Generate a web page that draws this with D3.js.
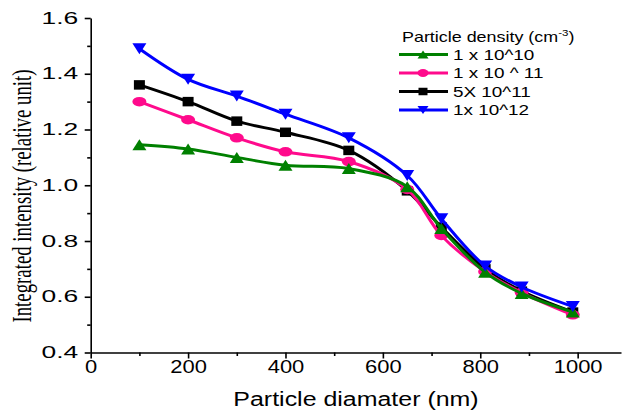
<!DOCTYPE html>
<html>
<head>
<meta charset="UTF-8">
<title>Integrated intensity vs particle diameter</title>
<script src="https://cdn.jsdelivr.net/npm/d3@7/dist/d3.min.js"></script>
<style>
body { margin: 0; background: #fff; }
svg text { fill: #000; }
</style>
</head>
<body>
<svg id="chart" width="622" height="412"></svg>
<script>
// values
var diameters = [100, 200, 300, 400, 530, 650, 720, 810, 885, 990];
var dens1e10 = [1.145, 1.13, 1.10, 1.072, 1.06, 0.995, 0.845, 0.688, 0.612, 0.545];
var dens1e11 = [1.30, 1.235, 1.17, 1.12, 1.085, 0.985, 0.82, 0.69, 0.615, 0.535];
var dens5e11 = [1.36, 1.30, 1.23, 1.19, 1.125, 0.98, 0.85, 0.70, 0.62, 0.545];
var dens1e12 = [1.49, 1.38, 1.32, 1.255, 1.17, 1.035, 0.88, 0.71, 0.635, 0.565];
var seriesNames = ["1 x 10^10", "1 x 10 ^ 11", "5X 10^11", "1x 10^12"];
var xTicks = [0, 200, 400, 600, 800, 1000];
var yTicks = [0.4, 0.6, 0.8, 1.0, 1.2, 1.4, 1.6];

var series = [
  {name: seriesNames[0], values: dens1e10, color: "#008000", marker: "up"},
  {name: seriesNames[1], values: dens1e11, color: "#ff0a8c", marker: "circle"},
  {name: seriesNames[2], values: dens5e11, color: "#000000", marker: "square"},
  {name: seriesNames[3], values: dens1e12, color: "#0000ff", marker: "down"}
];

var SANS = "Arial, 'Liberation Sans', sans-serif";
var SERIF = "'Times New Roman', 'Liberation Serif', serif";
// the original picture is stretched sideways, so text is too
var SX = 1.28;

var svg = d3.select("#chart");
var x = d3.scaleLinear().domain([0, 1089]).range([90.7, 621]);
var y = d3.scaleLinear().domain([0.4, 1.6]).range([352.5, 18]);

// axes
var xAxis = svg.append("g").attr("transform", "translate(0," + y(0.4) + ")")
  .call(d3.axisBottom(x).tickValues(xTicks).tickFormat(d3.format("d")).tickSize(6).tickSizeOuter(0).tickPadding(2));
var xMinor = svg.append("g").attr("transform", "translate(0," + y(0.4) + ")")
  .call(d3.axisBottom(x).tickValues([100, 300, 500, 700, 900]).tickFormat("").tickSize(3.5).tickSizeOuter(0));
xMinor.select(".domain").remove();
xAxis.selectAll("text").attr("font-size", 18).attr("transform", "scale(1.22,1)");

var yAxis = svg.append("g").attr("transform", "translate(" + x(0) + ",0)")
  .call(d3.axisLeft(y).tickValues(yTicks).tickFormat(d3.format(".1f")).tickSize(6).tickSizeOuter(0).tickPadding(6));
var yMinor = svg.append("g").attr("transform", "translate(" + x(0) + ",0)")
  .call(d3.axisLeft(y).tickValues([0.5, 0.7, 0.9, 1.1, 1.3, 1.5]).tickFormat("").tickSize(3.5).tickSizeOuter(0));
yMinor.select(".domain").remove();
yAxis.selectAll("text").attr("font-size", 16).attr("transform", "scale(1.65,1)")
  .attr("x", -12.5 / 1.65);

svg.selectAll(".domain, .tick line").attr("stroke", "#000").attr("stroke-width", 1.6);
svg.selectAll(".tick text").style("font-family", SANS);

// axis titles
svg.append("text")
  .attr("transform", "translate(356,406) scale(" + SX + ",1)")
  .attr("text-anchor", "middle")
  .style("font-family", SANS)
  .attr("font-size", 19.5)
  .text("Particle diamater (nm)");

svg.append("text")
  .attr("transform", "translate(31,196) scale(1.5,1) rotate(-90)")
  .attr("text-anchor", "middle")
  .style("font-family", SERIF)
  .attr("font-size", 18.8)
  .text("Integrated intensity (relative unit)");

// markers
function markerPath(type, w, h) {
  var hw = w / 2, hh = h / 2;
  if (type === "up") return "M0," + (-hh) + "L" + hw + "," + hh + "L" + (-hw) + "," + hh + "Z";
  if (type === "down") return "M0," + hh + "L" + hw + "," + (-hh) + "L" + (-hw) + "," + (-hh) + "Z";
  if (type === "square") return "M" + (-hw) + "," + (-hh) + "h" + w + "v" + h + "h" + (-w) + "Z";
  return "M" + (-hw) + ",0A" + hw + "," + hh + " 0 1,0 " + hw + ",0A" + hw + "," + hh + " 0 1,0 " + (-hw) + ",0Z";
}

var line = d3.line()
  .x(function(d, i) { return x(diameters[i]); })
  .y(function(d) { return y(d); })
  .curve(d3.curveCatmullRom.alpha(0.5));

// draw order: black, pink, green, blue
var drawOrder = [series[2], series[1], series[0], series[3]];
drawOrder.forEach(function(s) {
  var g = svg.append("g");
  g.append("path")
    .attr("d", line(s.values))
    .attr("fill", "none")
    .attr("stroke", s.color)
    .attr("stroke-width", 3);
  g.selectAll("path.mk").data(s.values).enter().append("path")
    .attr("class", "mk")
    .attr("transform", function(d, i) { return "translate(" + x(diameters[i]) + "," + y(d) + ")"; })
    .attr("d", markerPath(s.marker, s.marker === "square" ? 11 : 14, s.marker === "square" ? 9.5 : (s.marker === "circle" ? 9.5 : 11)))
    .attr("fill", s.color);
});

// legend
var legend = svg.append("g");
legend.append("text")
  .attr("transform", "translate(402,42) scale(" + SX + ",1)")
  .style("font-family", SANS)
  .attr("font-size", 14)
  .html("Particle density (cm<tspan dy='-6' font-size='9'>-3</tspan><tspan dy='6'>)</tspan>");

series.forEach(function(s, i) {
  var ly = 54.5 + i * 18.5;
  legend.append("line")
    .attr("x1", 399).attr("x2", 448).attr("y1", ly).attr("y2", ly)
    .attr("stroke", s.color).attr("stroke-width", 3);
  legend.append("path")
    .attr("transform", "translate(423," + ly + ")")
    .attr("d", markerPath(s.marker, s.marker === "square" ? 9 : 11, s.marker === "square" ? 7.5 : 8))
    .attr("fill", s.color);
  legend.append("text")
    .attr("transform", "translate(453," + (ly + 5) + ") scale(1.35,1)")
    .style("font-family", SANS)
    .attr("font-size", 14)
    .text(s.name);
});
</script>
</body>
</html>
